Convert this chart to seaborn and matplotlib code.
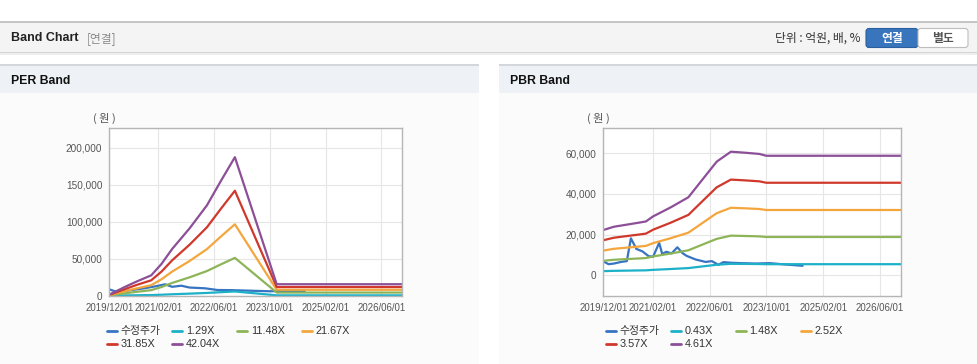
import matplotlib
matplotlib.use("Agg")
import matplotlib.pyplot as plt
import matplotlib.dates as mdates
from matplotlib.patches import Rectangle, FancyBboxPatch
from matplotlib.lines import Line2D
from matplotlib.ticker import FuncFormatter, FixedLocator
import seaborn as sns
import pandas as pd

W, H = 978, 364

# ---- PER band (left) ----
per_band_dates = ["2019-12-01", "2020-05-01", "2020-08-01", "2020-12-01", "2021-03-01", "2021-06-01",
                  "2021-11-01", "2022-04-01", "2022-08-01", "2022-12-01", "2023-12-01", "2026-12-01"]
per_129x = [50, 400, 600, 840, 1320, 1930, 2790, 3740, 4760, 5740, 480, 480]
per_1148x = [410, 3550, 5330, 7510, 11740, 17200, 24850, 33300, 42300, 51070, 4230, 4230]
per_2167x = [770, 6700, 10050, 14200, 22200, 32500, 46900, 62900, 79900, 96400, 8000, 8000]
per_3185x = [1100, 9800, 14800, 20800, 32600, 47700, 68900, 92400, 117400, 141700, 11700, 11700]
per_4204x = [1500, 13000, 19500, 27500, 43000, 63000, 91000, 122000, 155000, 187000, 15500, 15500]

per_price_dates = ["2019-12-01", "2020-02-01", "2020-04-01", "2020-07-01", "2020-10-01", "2021-01-01",
                   "2021-04-01", "2021-06-01", "2021-08-20", "2021-11-01", "2022-03-15", "2022-07-01",
                   "2022-11-01", "2023-04-01", "2023-10-01", "2024-02-01", "2024-08-01"]
per_price = [8500, 5400, 6000, 8000, 10000, 12500, 15400, 12000, 13500, 11000, 10000, 7700,
             7500, 6800, 6000, 6300, 6000]

# ---- PBR band (right) ----
pbr_band_dates = ["2019-12-01", "2020-03-01", "2020-10-01", "2020-12-01", "2021-02-01", "2021-07-01",
                  "2021-12-01", "2022-05-01", "2022-08-01", "2022-12-01", "2023-04-01", "2023-08-01",
                  "2023-10-01", "2026-12-01"]
pbr_043x = [2080, 2230, 2420, 2470, 2710, 3120, 3580, 4600, 5220, 5670, 5630, 5570, 5490, 5490]
pbr_148x = [7160, 7670, 8310, 8510, 9310, 10720, 12330, 15830, 17940, 19520, 19360, 19160, 18870, 18870]
pbr_252x = [12190, 13060, 14160, 14490, 15850, 18260, 20990, 26950, 30560, 33230, 32960, 32630, 32140, 32140]
pbr_357x = [17270, 18510, 20060, 20520, 22460, 25870, 29740, 38180, 43290, 47080, 46700, 46230, 45530, 45530]
pbr_461x = [22300, 23900, 25900, 26500, 29000, 33400, 38400, 49300, 55900, 60800, 60300, 59700, 58800, 58800]

pbr_price_dates = ["2019-12-01", "2020-01-15", "2020-03-01", "2020-05-01", "2020-06-20", "2020-07-25",
                   "2020-09-10", "2020-11-01", "2020-12-25", "2021-02-01", "2021-03-25", "2021-04-20",
                   "2021-05-25", "2021-07-10", "2021-08-28", "2021-10-10", "2021-11-15", "2022-02-01",
                   "2022-04-28", "2022-06-20", "2022-08-15", "2022-09-28", "2022-12-01", "2023-03-01",
                   "2023-07-01", "2023-11-01", "2024-03-01", "2024-08-08"]
pbr_price = [6900, 5500, 5800, 6600, 7000, 18200, 13000, 11800, 9400, 9200, 16000, 10500,
             11600, 10800, 13800, 11000, 9600, 7800, 6600, 7000, 5200, 6500, 6200, 6000,
             5800, 6000, 5400, 4700]

xtick_dates = ["2019-12-01", "2021-02-01", "2022-06-01", "2023-10-01", "2025-02-01", "2026-06-01"]
per_labels = ["수정주가", "1.29X", "11.48X", "21.67X", "31.85X", "42.04X"]
pbr_labels = ["수정주가", "0.43X", "1.48X", "2.52X", "3.57X", "4.61X"]
line_colors = ["#3774c2", "#1cb1c8", "#8db557", "#f4a63d", "#d0382c", "#8c4f98"]


def long_frame(price_dates, price, band_dates, bands, labels):
    parts = [pd.DataFrame({"date": pd.to_datetime(price_dates), "value": price, "series": labels[0]})]
    for lab, vals in zip(labels[1:], bands):
        parts.append(pd.DataFrame({"date": pd.to_datetime(band_dates), "value": vals, "series": lab}))
    return pd.concat(parts, ignore_index=True)


per_df = long_frame(per_price_dates, per_price, per_band_dates,
                    [per_129x, per_1148x, per_2167x, per_3185x, per_4204x], per_labels)
pbr_df = long_frame(pbr_price_dates, pbr_price, pbr_band_dates,
                    [pbr_043x, pbr_148x, pbr_252x, pbr_357x, pbr_461x], pbr_labels)

sns.set_style("white")
plt.rcParams["font.family"] = ["Liberation Sans", "Noto Sans CJK KR", "DejaVu Sans"]
KR = ["Noto Sans CJK KR", "DejaVu Sans"]


def fx(px):
    return px / W


def fy(py):
    return 1 - py / H


fig = plt.figure(figsize=(W / 100, H / 100), dpi=100)
fig.patch.set_facecolor("white")


def box(x0, y0, x1, y1, color):
    fig.add_artist(Rectangle((fx(x0), fy(y1)), fx(x1) - fx(x0), fy(y0) - fy(y1),
                             transform=fig.transFigure, facecolor=color, edgecolor="none", zorder=-5))


# top header bar
box(0, 21, W, 23, "#c6c6c6")
box(0, 23, W, 52, "#f4f4f4")
box(0, 52, W, 53, "#d4d4d4")
box(0, 53, W, 55, "#efefef")
fig.text(fx(11), fy(38), "Band Chart", fontsize=9, fontweight="bold", color="#222222", va="center")
fig.text(fx(87), fy(38.5), "[연결]", fontsize=8.5, color="#8a8a8a", va="center", family=KR)
fig.text(fx(861), fy(38.5), "단위 : 억원, 배, %", fontsize=8.5, color="#333333", va="center", ha="right",
         family=KR)

# toggle buttons
for x0, x1, face, edge, label, tcolor in [(866, 918, "#3875bd", "#2b5f9f", "연결", "white"),
                                          (918, 968, "#ffffff", "#bdbdbd", "별도", "#555555")]:
    fig.add_artist(FancyBboxPatch((fx(x0), fy(47.5)), fx(x1) - fx(x0), fy(28.5) - fy(47.5),
                                  boxstyle="round,pad=0,rounding_size=0.003", mutation_aspect=W / H,
                                  transform=fig.transFigure, facecolor=face, edgecolor=edge,
                                  linewidth=0.8, zorder=-4))
    fig.text(fx((x0 + x1) / 2), fy(38.5), label, fontsize=8.5, fontweight="bold", color=tcolor,
             ha="center", va="center", family=KR)

# panels
for x0, x1, title in [(0, 479, "PER Band"), (499, W, "PBR Band")]:
    box(x0, 64, x1, 66, "#d3d6da")
    box(x0, 66, x1, 93, "#eef2f7")
    box(x0, 93, x1, H, "#fbfbfb")
    fig.text(fx(x0 + 11), fy(80.5), title, fontsize=8.8, fontweight="bold", color="#111111", va="center")


def draw_chart(df, labels, rect, ylim, yticks, unit_x, legend_x):
    ax = fig.add_axes([fx(rect[0]), fy(rect[3]), fx(rect[2]) - fx(rect[0]), fy(rect[1]) - fy(rect[3])])
    ax.set_facecolor("white")
    sns.lineplot(data=df, x="date", y="value", hue="series", hue_order=labels,
                 palette=dict(zip(labels, line_colors)), estimator=None, sort=False,
                 linewidth=1.6, legend=False, ax=ax)
    ax.set_xlim(pd.Timestamp("2019-12-01"), pd.Timestamp("2026-12-01"))
    ax.set_ylim(*ylim)
    ax.xaxis.set_major_locator(FixedLocator(mdates.date2num(pd.to_datetime(xtick_dates))))
    ax.xaxis.set_major_formatter(mdates.DateFormatter("%Y/%m/%d"))
    ax.set_yticks(yticks)
    ax.yaxis.set_major_formatter(FuncFormatter(lambda v, p: f"{v:,.0f}"))
    ax.grid(True, color="#e6e6e6", linewidth=0.8)
    ax.set_axisbelow(True)
    for s in ax.spines.values():
        s.set_color("#b5b5b5")
        s.set_linewidth(1)
    ax.tick_params(axis="x", length=4, width=0.8, color="#b5b5b5", pad=1.5, labelsize=6.9, labelcolor="#555555")
    ax.tick_params(axis="y", length=0, pad=5, labelsize=7.2, labelcolor="#555555")
    ax.set_xlabel("")
    ax.set_ylabel("")
    fig.text(fx(unit_x), fy(118), "( 원 )", fontsize=8, color="#555555", ha="center", va="center",
             family=KR)
    # legend: 4 per row, fixed column pitch
    for i, (lab, col) in enumerate(zip(labels, line_colors)):
        x0 = legend_x + (i % 4) * 65
        y0 = 330.7 + (i // 4) * 13.3
        fig.add_artist(Line2D([fx(x0), fx(x0 + 10)], [fy(y0), fy(y0)], color=col, linewidth=2,
                              transform=fig.transFigure))
        fig.text(fx(x0 + 13.5), fy(y0), lab, fontsize=7.8, color="#333333", va="center")
    return ax


draw_chart(per_df, per_labels, (109.3, 128.3, 402.3, 295.7), (0, 226000),
           [0, 50000, 100000, 150000, 200000], 104, 107.3)
draw_chart(pbr_df, pbr_labels, (603.3, 128.3, 901, 295.7), (-10000, 72300),
           [0, 20000, 40000, 60000], 598, 606)

fig.savefig("out.png", dpi=100)
